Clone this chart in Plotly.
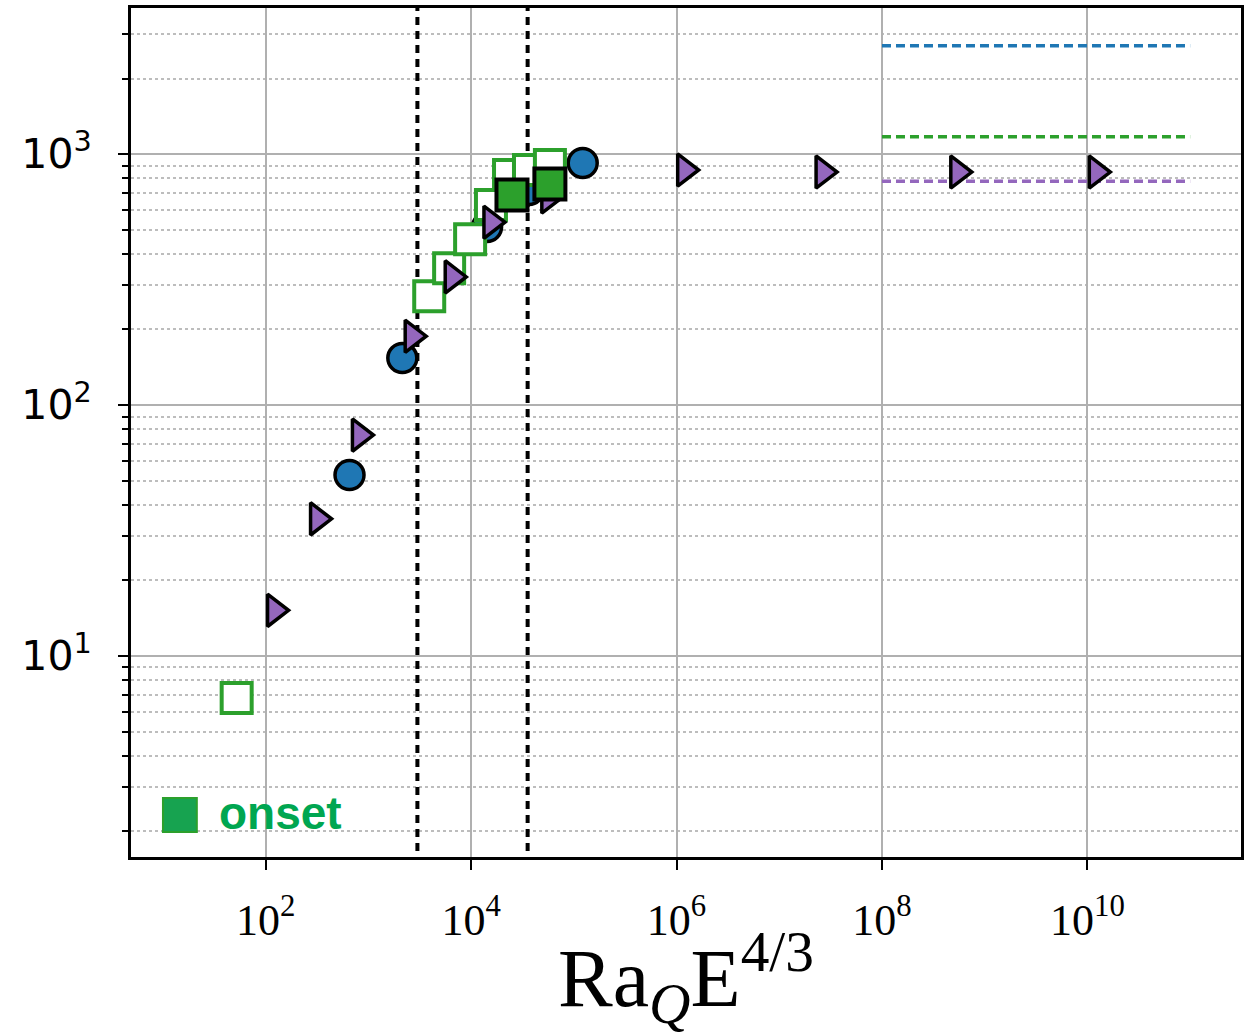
import plotly.graph_objects as go

# ---------------- data ----------------
circ_x = [655, 2140, 14300, 36600, 122000]
circ_y = [52.6, 154, 512, 719, 921]

tri_x = [122, 320, 818, 2670, 6550, 15600, 57100, 1.20e6, 2.67e7, 5.47e8, 1.22e10]
tri_y = [15.2, 35.2, 75.9, 188, 324, 535, 674, 864, 848, 848, 848]

open_sq_x = [52.2, 3910, 6110, 9780, 15600, 23400, 36600, 58500]
open_sq_y = [6.80, 271, 351, 458, 627, 825, 864, 904]

onset_x = [25000, 58500]
onset_y = [687, 759]

vline_x = [3000, 35500]
vline_y_span = [1, 10000]

asym_x = [1e8, 1e11]
asym_blue = 2701
asym_green = 1172
asym_purple = 780

x_tickvals = [1e2, 1e4, 1e6, 1e8, 1e10]
x_ticktext = ["10<sup>2</sup>", "10<sup>4</sup>", "10<sup>6</sup>", "10<sup>8</sup>", "10<sup>10</sup>"]
y_tickvals = [10, 100, 1000]
y_ticktext = ["10<sup>1</sup>", "10<sup>2</sup>", "10<sup>3</sup>"]
y_minor_vals = [m * 10 ** e for e in range(0, 4) for m in range(2, 10)]

legend_label = "onset"
x_title = "Ra<sub><i>Q</i></sub>E<sup>4/3</sup>"

BLUE = "#1f77b4"
GREEN = "#2ca02c"
PURPLE = "#9467bd"

fig = go.Figure()

for vx in vline_x:
    fig.add_trace(go.Scatter(x=[vx, vx], y=vline_y_span, mode="lines",
                             line=dict(color="black", width=4, dash="8px,6px"),
                             showlegend=False, hoverinfo="skip"))

for yv, col in [(asym_blue, BLUE), (asym_green, GREEN), (asym_purple, PURPLE)]:
    fig.add_trace(go.Scatter(x=asym_x, y=[yv, yv], mode="lines",
                             line=dict(color=col, width=3.5, dash="9px,5px"),
                             showlegend=False, hoverinfo="skip"))

fig.add_trace(go.Scatter(x=circ_x, y=circ_y, mode="markers",
                         marker=dict(symbol="circle", size=29, color=BLUE,
                                     line=dict(color="black", width=3.5)),
                         showlegend=False))

fig.add_trace(go.Scatter(x=open_sq_x, y=open_sq_y, mode="markers",
                         marker=dict(symbol="square", size=30, color="white",
                                     line=dict(color=GREEN, width=4)),
                         showlegend=False))

fig.add_trace(go.Scatter(x=tri_x, y=tri_y, mode="markers",
                         marker=dict(symbol="triangle-right", size=28, color=PURPLE,
                                     line=dict(color="black", width=3.5)),
                         showlegend=False))

fig.add_trace(go.Scatter(x=onset_x, y=onset_y, mode="markers", name=legend_label,
                         marker=dict(symbol="square", size=31, color=GREEN,
                                     line=dict(color="black", width=4)),
                         showlegend=False))

# legend-like label (bottom-left)
fig.add_shape(type="rect", xref="paper", yref="paper",
              x0=0.0288, x1=0.0593, y0=0.0294, y1=0.0695,
              fillcolor="#17a350", line=dict(color=GREEN, width=2))
fig.add_annotation(xref="paper", yref="paper", x=0.0773, y=0.0518,
                   xanchor="left", yanchor="middle", showarrow=False,
                   text="<b>" + legend_label + "</b>",
                   font=dict(family="Liberation Sans, Arial, sans-serif", size=46, color="#00a651"))

fig.update_layout(
    width=1249, height=1035,
    margin=dict(l=131, r=5, t=8, b=178),
    paper_bgcolor="white", plot_bgcolor="white",
    showlegend=False,
)

fig.update_xaxes(
    type="log", range=[0.689, 11.495],
    tickvals=x_tickvals, ticktext=x_ticktext,
    ticks="outside", ticklen=10, tickwidth=2, tickcolor="black",
    ticklabelstandoff=12,
    tickfont=dict(family="Liberation Serif, DejaVu Serif, serif", size=44, color="black"),
    showgrid=True, gridcolor="#b0b0b0", gridwidth=2,
    showline=True, linecolor="black", linewidth=3, mirror=True,
    zeroline=False,
    title=dict(text=x_title, font=dict(family="Liberation Serif, DejaVu Serif, serif", size=82, color="black"),
               standoff=4),
)

fig.update_yaxes(
    type="log", range=[0.199, 3.582],
    tickvals=y_tickvals, ticktext=y_ticktext,
    ticks="outside", ticklen=10, tickwidth=2, tickcolor="black",
    ticklabelstandoff=18,
    tickfont=dict(family="DejaVu Sans, sans-serif", size=41, color="black"),
    showgrid=True, gridcolor="#b0b0b0", gridwidth=2,
    showline=True, linecolor="black", linewidth=3, mirror=True,
    zeroline=False,
    minor=dict(tickmode="array", tickvals=y_minor_vals, ticks="outside", ticklen=6,
               tickwidth=2, tickcolor="black", showgrid=True, gridcolor="#bdbdbd",
               gridwidth=1.5, griddash="dot"),
)

fig.write_html("out.html")
